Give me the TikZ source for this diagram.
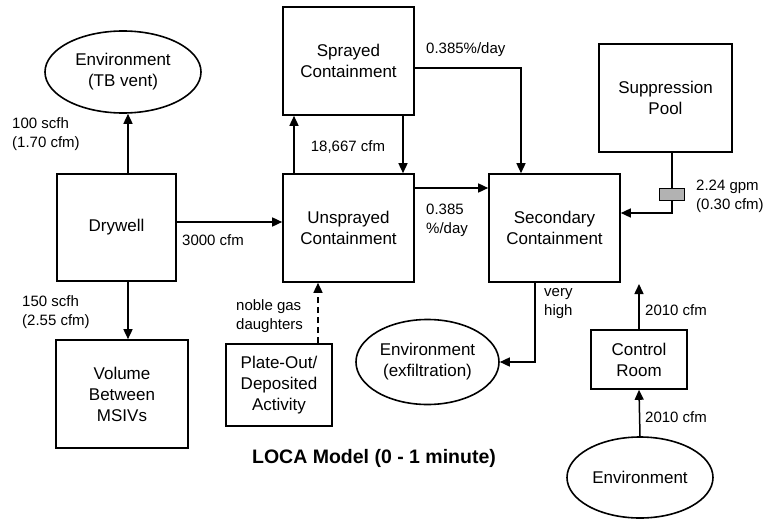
\documentclass[tikz,border=0pt]{standalone}
\usepackage{fontspec}
\setmainfont{Liberation Sans}
\usetikzlibrary{arrows.meta,shapes.geometric,calc}
\begin{document}
\begin{tikzpicture}[x=1pt,y=-1pt,
  box/.style={draw,line width=1.6pt,align=center,inner sep=0pt,font=\fontsize{17}{21}\selectfont},
  oval/.style={draw,ellipse,line width=1.6pt,align=center,inner sep=0pt,font=\fontsize{17}{21}\selectfont},
  arr/.style={line width=1.5pt,-{Triangle[length=10pt,width=9pt]}},
  lbl/.style={align=left,inner sep=0pt,font=\fontsize{15}{19}\selectfont},
  valvebox/.style={draw,line width=1pt,fill=gray!60,minimum width=25pt,minimum height=12pt,inner sep=0pt}]
\useasboundingbox (0,0) rectangle (768,519);
% nodes
\node[oval,minimum width=156pt,minimum height=82pt] (tb) at (123,72) {Environment\\(TB vent)};
\node[box,minimum width=119pt,minimum height=107pt] (dw) at (116.5,227.5) {Drywell};
\node[box,minimum width=132pt,minimum height=108pt] (vol) at (122,394) {Volume\\Between\\MSIVs};
\node[box,minimum width=131pt,minimum height=108pt] (sp) at (348.5,61) {Sprayed\\Containment};
\node[box,minimum width=131pt,minimum height=108pt] (us) at (348.5,228) {Unsprayed\\Containment};
\node[box,minimum width=131pt,minimum height=108pt] (sec) at (554.5,228) {Secondary\\Containment};
\node[box,minimum width=133pt,minimum height=108pt] (pool) at (665.5,98) {Suppression\\Pool};
\node[box,minimum width=106pt,minimum height=82pt] (po) at (279,385) {Plate-Out/\\Deposited\\Activity};
\node[oval,minimum width=143pt,minimum height=85pt] (ex) at (427.5,362) {Environment\\(exfiltration)};
\node[box,minimum width=96pt,minimum height=59pt] (cr) at (639,359.5) {Control\\Room};
\node[oval,minimum width=146pt,minimum height=81pt] (env) at (640,477.5) {Environment};
\coordinate (crtop) at (639,284);
% connectors
\draw[arr] ([xshift=11.5pt]dw.north) -- ([xshift=11.5pt]dw.north |- tb.south);
\draw[arr] ([xshift=11.5pt]dw.south) -- ([xshift=11.5pt]dw.south |- vol.north);
\draw[arr] ([yshift=5.5pt]dw.east) -- ([yshift=5.5pt]dw.east -| us.west);
\draw[arr] ([xshift=-54.5pt]us.north) -- ([xshift=-54.5pt]us.north |- sp.south);
\draw[arr] ([xshift=54.5pt]sp.south) -- ([xshift=54.5pt]sp.south |- us.north);
\draw[arr] ([yshift=-7pt]sp.east) -| ([xshift=-33.5pt]sec.north);
\draw[arr] ([yshift=40pt]us.east) -- ([yshift=40pt]us.east -| sec.west);
\draw[arr] ([xshift=6.5pt]pool.south) |- ([yshift=15pt]sec.east);
\node[valvebox] (valve) at (672,194) {};
\draw[arr] ([xshift=-19.5pt]sec.south) |- (ex.east);
\draw[arr] (env.north) -- (cr.south);
\draw[arr] (cr.north) -- (crtop);
\draw[arr,dashed,dash pattern=on 6pt off 4pt] ([xshift=39pt]po.north) -- ([xshift=39pt]po.north |- us.south);
% labels
\node[lbl,anchor=north west] (l1) at (12,117) {100 scfh\\(1.70 cfm)};
\node[lbl,anchor=north west] (l2) at (22,295) {150 scfh\\(2.55 cfm)};
\node[lbl,anchor=west] (l3) at (182,240) {3000 cfm};
\node[lbl] (l4) at (348,147) {18,667 cfm};
\node[lbl,anchor=west] (l5) at (426,50) {0.385\%/day};
\node[lbl,anchor=west] (l6) at (426,220) {0.385\\\%/day};
\node[lbl,anchor=west] (l7) at (696,196) {2.24 gpm\\(0.30 cfm)};
\node[lbl,anchor=west] (l8) at (236,316) {noble gas\\daughters};
\node[lbl,anchor=west] (l9) at (544,304) {very\\high};
\node[lbl,anchor=west] (l10) at (645,310) {2010 cfm};
\node[lbl,anchor=west] (l11) at (645,417) {2010 cfm};
\node[inner sep=0pt,font=\fontsize{19.5}{23}\selectfont\bfseries] (title) at (374,458) {LOCA Model (0 - 1 minute)};
\end{tikzpicture}
\end{document}
